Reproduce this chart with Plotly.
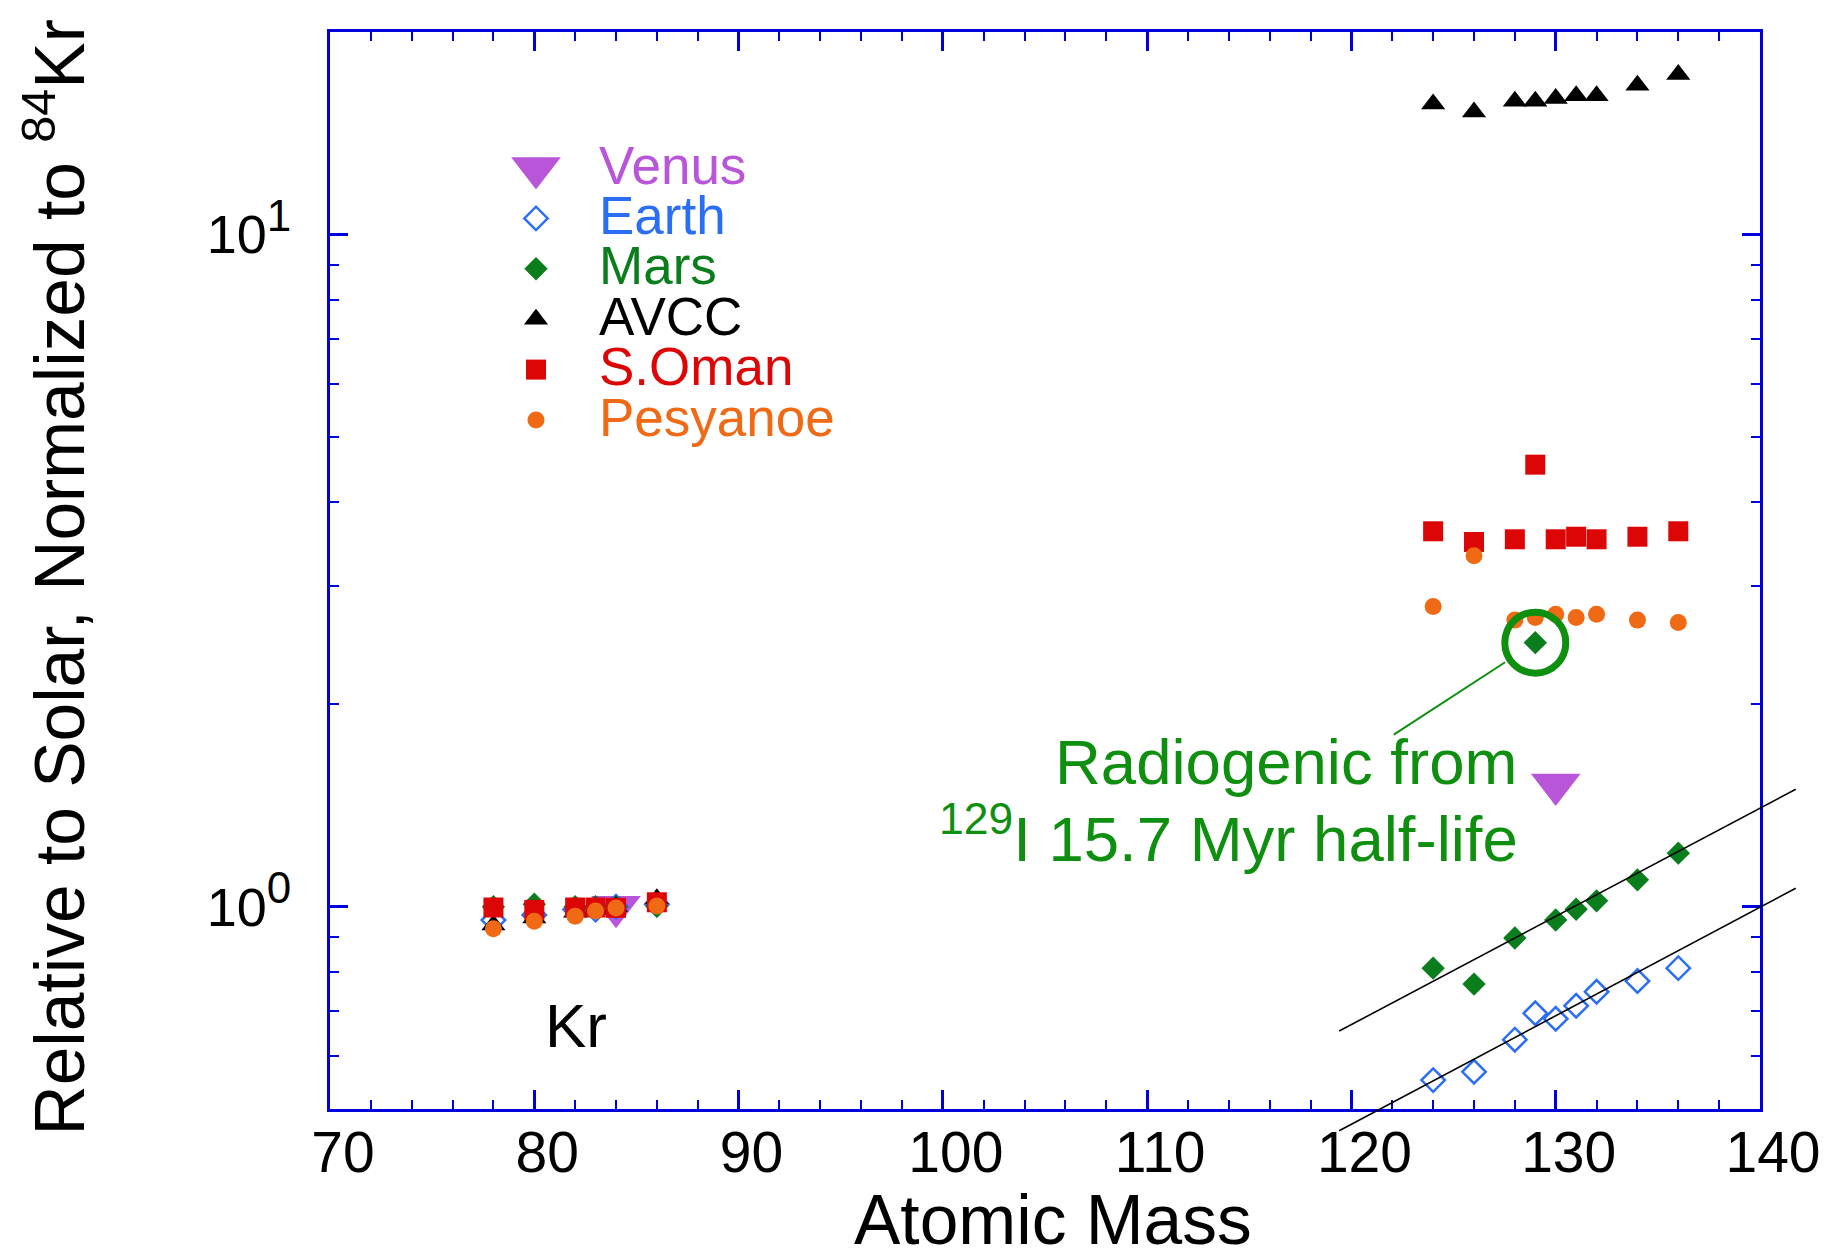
import math
import plotly.graph_objects as go

# ---------------- data ----------------
# isotope masses (amu)
kr_mass = [78, 80, 82, 83, 84, 86]
xe_mass = [124, 126, 128, 129, 130, 131, 132, 134, 136]

# abundances relative to solar, normalised to 84Kr
venus_mass = [84, 130]
venus = [1.00, 1.52]

earth_kr = [0.955, 0.972, 0.990, 0.990, 1.000, 1.008]
earth_xe = [0.552, 0.568, 0.634, 0.694, 0.681, 0.712, 0.747, 0.775, 0.810]

mars_kr = [1.000, 1.008, 1.000, 1.000, 1.000, 1.001]
mars_xe = [0.810, 0.767, 0.898, 2.470, 0.955, 0.991, 1.020, 1.096, 1.201]

avcc_kr = [0.939, 0.962, 0.981, 0.990, 1.000, 1.027]
avcc_xe = [15.63, 15.21, 15.78, 15.78, 15.92, 16.07, 16.07, 16.67, 17.29]

soman_kr = [0.997, 0.989, 0.997, 0.997, 0.996, 1.015]
soman_xe = [3.617, 3.487, 3.519, 4.544, 3.519, 3.550, 3.519, 3.550, 3.617]

pesy_kr = [0.927, 0.951, 0.968, 0.985, 0.995, 1.002]
pesy_xe = [2.796, 3.326, 2.668, 2.692, 2.723, 2.692, 2.723, 2.668, 2.647]

# mass-fractionation trend lines through the Xe data
fit_mass = [119.4, 141.75]
mars_fit = [0.653, 1.495]
earth_fit = [0.464, 1.065]

# radiogenic 129Xe excess (from 129I decay)
radiogenic_mass = 129

x_range = [70, 140]
x_tickvals = [70, 80, 90, 100, 110, 120, 130, 140]
y_range = [0.5, 20]
y_tickvals = [1, 10]
y_ticktext = ["10<sup><span style='font-size:44px'>0</span></sup>",
              "10<sup><span style='font-size:44px'>1</span></sup>"]
y_minor_vals = [0.6, 0.7, 0.8, 0.9, 2, 3, 4, 5, 6, 7, 8, 9]

# ---------------- styling ----------------
FONT = "Liberation Sans, Arial, Helvetica, sans-serif"
AXIS_BLUE = "#0000dd"
VENUS_C = "#b955d8"
EARTH_C = "#2b6ef6"
MARS_C = "#0a7d1c"
AVCC_C = "#000000"
SOMAN_C = "#dc0606"
PESY_C = "#f06914"
NOTE_C = "#0f8f10"

W, H = 1842, 1259
# plot box in figure pixels
PL, PR, PT, PB = 330, 1760, 32, 1109
# slightly larger box used by the trend lines (they run past the frame)
EXT_R, EXT_B = 1812, 1142

paper_w = EXT_R - PL
paper_h = EXT_B - PT
px_per_amu = (PR - PL) / (x_range[1] - x_range[0])
log_lo, log_hi = math.log10(y_range[0]), math.log10(y_range[1])
px_per_dec = (PB - PT) / (log_hi - log_lo)

x2_range = [x_range[0], x_range[0] + paper_w / px_per_amu]
y2_range = [log_hi - paper_h / px_per_dec, log_hi]

series = [
    dict(name="Venus", x=venus_mass, y=venus, color=VENUS_C,
         symbol="triangle-down", size=43, lw=0),
    dict(name="Earth", x=kr_mass + xe_mass, y=earth_kr + earth_xe, color=EARTH_C,
         symbol="diamond-open", size=18, lw=2.5),
    dict(name="Mars", x=kr_mass + xe_mass, y=mars_kr + mars_xe, color=MARS_C,
         symbol="diamond", size=18, lw=0),
    dict(name="AVCC", x=kr_mass + xe_mass, y=avcc_kr + avcc_xe, color=AVCC_C,
         symbol="triangle-up", size=21, lw=0),
    dict(name="S.Oman", x=kr_mass + xe_mass, y=soman_kr + soman_xe, color=SOMAN_C,
         symbol="square", size=20, lw=0),
    dict(name="Pesyanoe", x=kr_mass + xe_mass, y=pesy_kr + pesy_xe, color=PESY_C,
         symbol="circle", size=17, lw=0),
]

fig = go.Figure()

for s in series:
    fig.add_trace(go.Scatter(
        x=s["x"], y=s["y"], mode="markers", name=s["name"],
        marker=dict(symbol=s["symbol"], size=s["size"], color=s["color"],
                    line=dict(width=s["lw"], color=s["color"])),
        xaxis="x", yaxis="y", showlegend=False, cliponaxis=False,
    ))

# ring around the radiogenic 129Xe point of Mars
rad_y = mars_xe[xe_mass.index(radiogenic_mass)]
fig.add_trace(go.Scatter(
    x=[radiogenic_mass], y=[rad_y], mode="markers",
    marker=dict(symbol="circle-open", size=61, color=NOTE_C,
                line=dict(width=7, color=NOTE_C)),
    xaxis="x", yaxis="y", showlegend=False, hoverinfo="skip", cliponaxis=False,
))

# trend lines on an overlay subplot with the same scale but a larger frame
for fy in (mars_fit, earth_fit):
    fig.add_trace(go.Scatter(
        x=fit_mass, y=fy, mode="lines",
        line=dict(color="black", width=1.6),
        xaxis="x2", yaxis="y2", showlegend=False, hoverinfo="skip",
    ))

# hand-built legend (figure-pixel overlay subplot)
LEG_MARK_X = 536
LEG_TEXT_X = 597
LEG_BASE0 = 183.5
LEG_STEP = 50.4
LEG_FONT = 53
annotations = []
for i, s in enumerate(series):
    base = LEG_BASE0 + i * LEG_STEP
    fig.add_trace(go.Scatter(
        x=[LEG_MARK_X], y=[base - 15.5], mode="markers",
        marker=dict(symbol=s["symbol"], size=s["size"], color=s["color"],
                    line=dict(width=s["lw"], color=s["color"])),
        xaxis="x3", yaxis="y3", showlegend=False, hoverinfo="skip",
    ))
    annotations.append(dict(
        x=LEG_TEXT_X, y=base - 0.346 * LEG_FONT, xref="x3", yref="y3",
        text=s["name"], showarrow=False, xanchor="left", yanchor="middle",
        font=dict(family=FONT, size=LEG_FONT, color=s["color"]),
    ))

# element label
annotations.append(dict(
    x=576, y=1046.7 - 0.346 * 62, xref="x3", yref="y3", text="Kr",
    showarrow=False, xanchor="center", yanchor="middle",
    font=dict(family=FONT, size=62, color="black"),
))

# radiogenic note and its pointer to the ringed point
NOTE_FONT = 63.5
annotations.append(dict(
    x=1519, y=783.5 - 0.346 * NOTE_FONT, xref="x3", yref="y3", text="Radiogenic from",
    showarrow=False, xanchor="right", yanchor="middle",
    font=dict(family=FONT, size=NOTE_FONT, color=NOTE_C),
))
annotations.append(dict(
    x=1520, y=860 - 0.346 * NOTE_FONT - 4.5, xref="x3", yref="y3",
    text="<sup>129</sup>I 15.7 Myr half-life",
    showarrow=False, xanchor="right", yanchor="middle",
    font=dict(family=FONT, size=NOTE_FONT, color=NOTE_C),
))
annotations.append(dict(
    x=radiogenic_mass, y=math.log10(rad_y), xref="x", yref="y", text="",
    showarrow=True, arrowhead=0, arrowwidth=2, arrowcolor=NOTE_C,
    ax=-143, ay=93, axref="pixel", ayref="pixel", standoff=36,
))

# axis titles
TITLE_FONT = 69.5
annotations.append(dict(
    x=(1053 - PL) / paper_w, y=(EXT_B - (1244 - 0.346 * TITLE_FONT)) / paper_h,
    xref="paper", yref="paper", text="Atomic Mass", showarrow=False,
    xanchor="center", yanchor="middle",
    font=dict(family=FONT, size=TITLE_FONT, color="black"),
))
annotations.append(dict(
    x=(54.5 - PL) / paper_w, y=(EXT_B - 578) / paper_h,
    xref="paper", yref="paper",
    text="Relative to Solar, Normalized to <sup>84</sup>Kr", textangle=-90,
    showarrow=False, xanchor="center", yanchor="middle",
    font=dict(family=FONT, size=TITLE_FONT, color="black"),
))

axis_common = dict(
    showline=True, linecolor=AXIS_BLUE, linewidth=3, mirror="ticks",
    ticks="inside", tickcolor=AXIS_BLUE, tickwidth=2.5,
    showgrid=False, zeroline=False, automargin=False,
)

fig.update_layout(
    width=W, height=H,
    margin=dict(l=PL, r=W - EXT_R, t=PT, b=H - EXT_B, pad=0, autoexpand=False),
    paper_bgcolor="white", plot_bgcolor="rgba(0,0,0,0)",
    showlegend=False,
    font=dict(family=FONT, color="black"),
    xaxis=dict(
        domain=[0, (PR - PL) / paper_w], range=x_range, anchor="y",
        tickmode="array", tickvals=x_tickvals, ticklen=19,
        tickfont=dict(family=FONT, size=57, color="black"),
        ticklabelshift=13, ticklabelstandoff=-8,
        minor=dict(dtick=2, tick0=70, ticks="inside", ticklen=9, tickwidth=2,
                   tickcolor=AXIS_BLUE, showgrid=False),
        **axis_common,
    ),
    yaxis=dict(
        domain=[(EXT_B - PB) / paper_h, 1], type="log", range=[log_lo, log_hi],
        anchor="x", tickmode="array", tickvals=y_tickvals, ticktext=y_ticktext,
        ticklen=18, tickfont=dict(family=FONT, size=54, color="black"),
        ticklabelstandoff=25,
        minor=dict(tickvals=y_minor_vals, ticks="inside", ticklen=9, tickwidth=2,
                   tickcolor=AXIS_BLUE, showgrid=False),
        **axis_common,
    ),
    xaxis2=dict(domain=[0, 1], range=x2_range, anchor="y2", visible=False),
    yaxis2=dict(domain=[0, 1], type="log", range=y2_range, anchor="x2", visible=False),
    xaxis3=dict(domain=[0, 1], range=[PL, EXT_R], anchor="y3", visible=False),
    yaxis3=dict(domain=[0, 1], range=[EXT_B, PT], anchor="x3", visible=False),
    annotations=annotations,
)

fig.write_html("out.html")
